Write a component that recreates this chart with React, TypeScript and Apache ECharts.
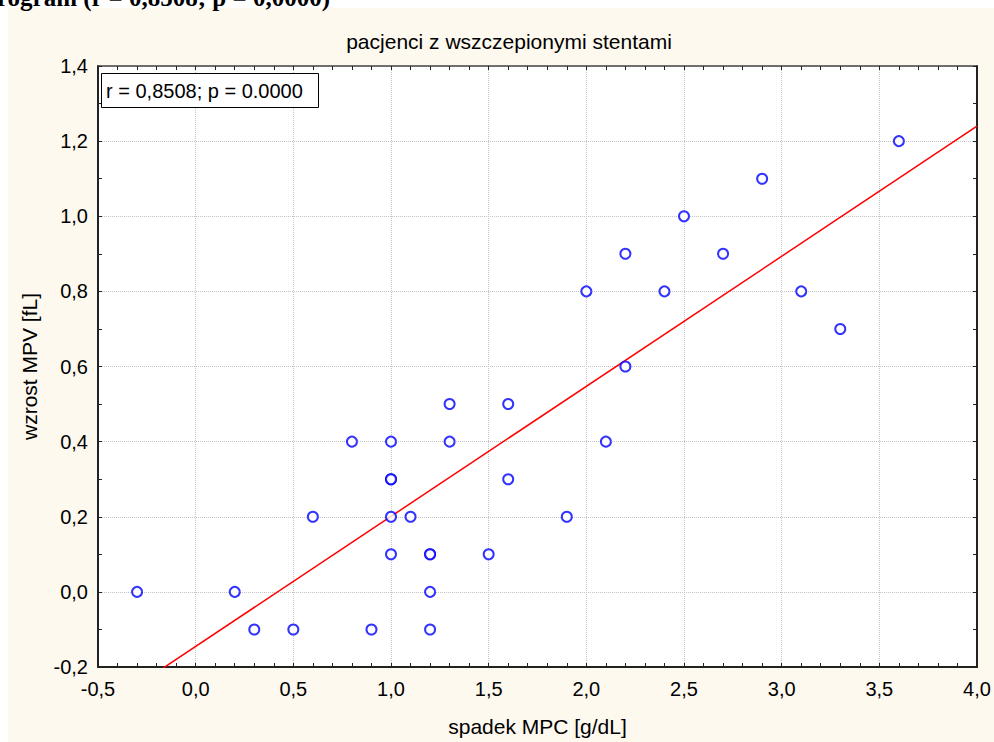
import React, { useEffect, useRef } from "react";
import * as echarts from "echarts";

// spadek MPC [g/dL] (x) and wzrost MPV [fL] (y) for each patient
const spadekMPC: number[] = [
  -0.3, 0.2, 0.3, 0.5, 0.6, 0.8, 0.9,
  1.0, 1.0, 1.0, 1.0, 1.0, 1.1,
  1.2, 1.2, 1.2, 1.2, 1.3, 1.3, 1.5,
  1.6, 1.6, 1.9, 2.0, 2.1, 2.2, 2.2,
  2.4, 2.5, 2.7, 2.9, 3.1, 3.3, 3.6,
];
const wzrostMPV: number[] = [
  0.0, 0.0, -0.1, -0.1, 0.2, 0.4, -0.1,
  0.4, 0.3, 0.3, 0.2, 0.1, 0.2,
  0.1, 0.1, 0.0, -0.1, 0.5, 0.4, 0.1,
  0.5, 0.3, 0.2, 0.8, 0.4, 0.9, 0.6,
  0.8, 1.0, 0.9, 1.1, 0.8, 0.7, 1.2,
];

const xRange = { min: -0.5, max: 4.0, interval: 0.5 };
const yRange = { min: -0.2, max: 1.4, interval: 0.2 };

const chartTitle = "pacjenci z wszczepionymi stentami";
const xName = "spadek MPC [g/dL]";
const yName = "wzrost MPV [fL]";
const statsText = "r = 0,8508; p = 0.0000";
const headerText = "rogram (r = 0,8508; p = 0,0000)";

const FONT = "'Liberation Sans', Arial, sans-serif";
const fmt = (v: number) => v.toFixed(1).replace(".", ",");

function regression(xs: number[], ys: number[]) {
  const n = xs.length;
  const mx = xs.reduce((a, b) => a + b, 0) / n;
  const my = ys.reduce((a, b) => a + b, 0) / n;
  let sxy = 0;
  let sxx = 0;
  for (let i = 0; i < n; i++) {
    sxy += (xs[i] - mx) * (ys[i] - my);
    sxx += (xs[i] - mx) * (xs[i] - mx);
  }
  const b = sxy / sxx;
  return { a: my - b * mx, b };
}

export default function App() {
  const ref = useRef<HTMLDivElement>(null);

  useEffect(() => {
    if (!ref.current) return;
    const chart = echarts.init(ref.current, null, { renderer: "svg" });
    const { a, b } = regression(spadekMPC, wzrostMPV);
    const lineData = [
      [xRange.min, a + b * xRange.min],
      [xRange.max, a + b * xRange.max],
    ];
    const axisLineDark = { color: "#222", width: 2 };
    const tickStyle = { color: "#222", width: 1 };

    const baseX = {
      type: "value",
      min: xRange.min,
      max: xRange.max,
      interval: xRange.interval,
      axisTick: { show: true, inside: true, length: 4, lineStyle: tickStyle },
      minorTick: { show: true, splitNumber: 5, length: 4, lineStyle: tickStyle },
    };
    const baseY = {
      type: "value",
      min: yRange.min,
      max: yRange.max,
      interval: yRange.interval,
      axisTick: { show: true, inside: true, length: 4, lineStyle: tickStyle },
      minorTick: { show: true, splitNumber: 2, length: 4, lineStyle: tickStyle },
    };

    chart.setOption({
      animation: false,
      backgroundColor: "#fdf9ef",
      grid: {
        left: 98,
        right: 17,
        top: 66,
        bottom: 67,
        show: true,
        backgroundColor: "#ffffff",
        borderWidth: 0,
      },
      xAxis: [
        {
          ...baseX,
          position: "bottom",
          axisLine: { show: true, onZero: false, lineStyle: axisLineDark },
          splitLine: { show: true, lineStyle: { color: "#c4c4c4", type: "dotted", width: 1 } },
          axisLabel: {
            formatter: fmt,
            color: "#000",
            fontFamily: FONT,
            fontSize: 20,
            margin: 12,
          },
          name: xName,
          nameLocation: "middle",
          nameGap: 49,
          nameTextStyle: { color: "#000", fontFamily: FONT, fontSize: 21 },
        },
        {
          ...baseX,
          position: "top",
          axisLine: { show: true, onZero: false, lineStyle: { color: "#444", width: 1.5 } },
          splitLine: { show: false },
          axisLabel: { show: false },
        },
      ],
      yAxis: [
        {
          ...baseY,
          position: "left",
          axisLine: { show: true, onZero: false, lineStyle: axisLineDark },
          splitLine: { show: true, lineStyle: { color: "#c4c4c4", type: "dotted", width: 1 } },
          axisLabel: {
            formatter: fmt,
            color: "#000",
            fontFamily: FONT,
            fontSize: 20,
            margin: 10,
          },
          name: yName,
          nameLocation: "middle",
          nameGap: 58,
          nameTextStyle: { color: "#000", fontFamily: FONT, fontSize: 21 },
        },
        {
          ...baseY,
          position: "right",
          axisLine: { show: true, onZero: false, lineStyle: axisLineDark },
          splitLine: { show: false },
          axisLabel: { show: false },
        },
      ],
      graphic: [
        { type: "rect", shape: { x: 0, y: 0, width: 994, height: 8 }, style: { fill: "#ffffff" }, silent: true },
        { type: "rect", shape: { x: 0, y: 0, width: 8, height: 742 }, style: { fill: "#ffffff" }, silent: true },
        {
          type: "text",
          x: 330,
          y: 10,
          style: {
            text: headerText,
            fill: "#000",
            font: "bold 25px 'Liberation Serif', 'Times New Roman', serif",
            align: "right",
            verticalAlign: "bottom",
          },
          silent: true,
        },
        {
          type: "text",
          x: 509,
          y: 41,
          style: {
            text: chartTitle,
            fill: "#000",
            font: `21px ${FONT}`,
            align: "center",
            verticalAlign: "middle",
          },
          silent: true,
        },
        {
          type: "rect",
          shape: { x: 101.5, y: 73.5, width: 217, height: 34 },
          style: { fill: "#ffffff", stroke: "#000", lineWidth: 1 },
          silent: true,
          z: 10,
        },
        {
          type: "text",
          x: 106,
          y: 91,
          style: {
            text: statsText,
            fill: "#000",
            font: `20px ${FONT}`,
            align: "left",
            verticalAlign: "middle",
          },
          silent: true,
          z: 11,
        },
      ],
      series: [
        {
          type: "line",
          data: lineData,
          xAxisIndex: 0,
          yAxisIndex: 0,
          showSymbol: false,
          symbol: "none",
          clip: true,
          lineStyle: { color: "#ff0000", width: 1.5 },
          z: 3,
        },
        {
          type: "scatter",
          data: spadekMPC.map((x, i) => [x, wzrostMPV[i]]),
          xAxisIndex: 0,
          yAxisIndex: 0,
          symbol: "emptyCircle",
          symbolSize: 10,
          itemStyle: { color: "#0000ff", borderColor: "#0000ff", borderWidth: 1.5 },
          z: 4,
        },
      ],
    });
    return () => chart.dispose();
  }, []);

  return (
    <div
      ref={ref}
      style={{ position: "absolute", left: 0, top: 0, width: 994, height: 742 }}
    />
  );
}
